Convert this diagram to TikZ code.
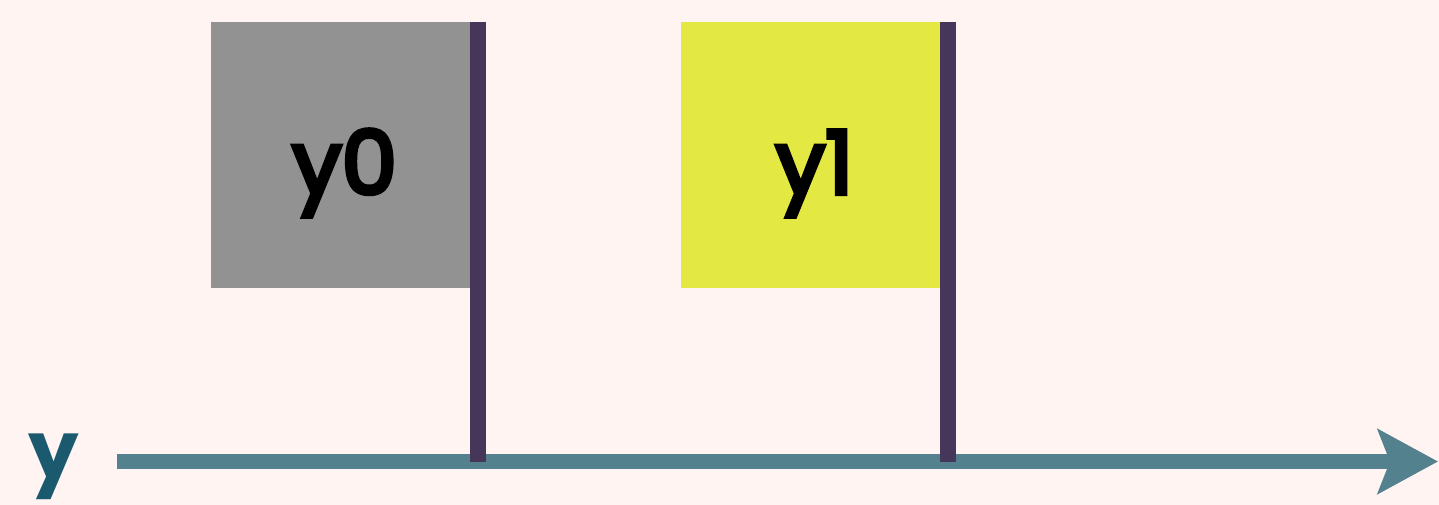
\documentclass[tikz,border=0pt]{standalone}
\usepackage{fontspec}
\setmainfont{Poppins}
\newfontfamily\flagfont[FakeBold=5]{Poppins}
\usetikzlibrary{arrows.meta}
\definecolor{bgc}{HTML}{FFF4F2}
\definecolor{boxgray}{HTML}{929292}
\definecolor{boxyellow}{HTML}{E3E942}
\definecolor{polec}{HTML}{46365A}
\definecolor{axisc}{HTML}{53818E}
\definecolor{labelc}{HTML}{1B5A6E}
\tikzset{
  flagbox/.style={draw=none, inner sep=0pt, minimum width=267pt, minimum height=266pt,
    text height=78pt, text depth=0pt, font=\flagfont\fontsize{88}{88}\selectfont},
  pole/.style={draw=polec, line width=16pt},
  axisline/.style={draw=axisc, line width=15pt, -{Stealth[length=60pt, width=64pt, inset=12pt]}},
  axislabel/.style={text=labelc, font=\fontsize{80}{80}\selectfont\bfseries, inner sep=0pt, anchor=base}
}
\begin{document}
\begin{tikzpicture}[x=1pt, y=-1pt]
\fill[bgc] (0,0) rectangle (1439,505);
\useasboundingbox (0,0) rectangle (1439,505);
\coordinate (a0) at (117,461.5);
\coordinate (a1) at (1438,461.5);
\node[flagbox, fill=boxgray] (b0) at (344.5,155) {y0};
\node[flagbox, fill=boxyellow] (b1) at (814.5,155) {y1};
\draw[axisline] (a0) -- (a1);
\draw[pole] (b0.north east) -- (b0.north east |- a0);
\draw[pole] (b1.north east) -- (b1.north east |- a0);
\node[axislabel] (ylab) at (54,478) {y};
\end{tikzpicture}
\end{document}
